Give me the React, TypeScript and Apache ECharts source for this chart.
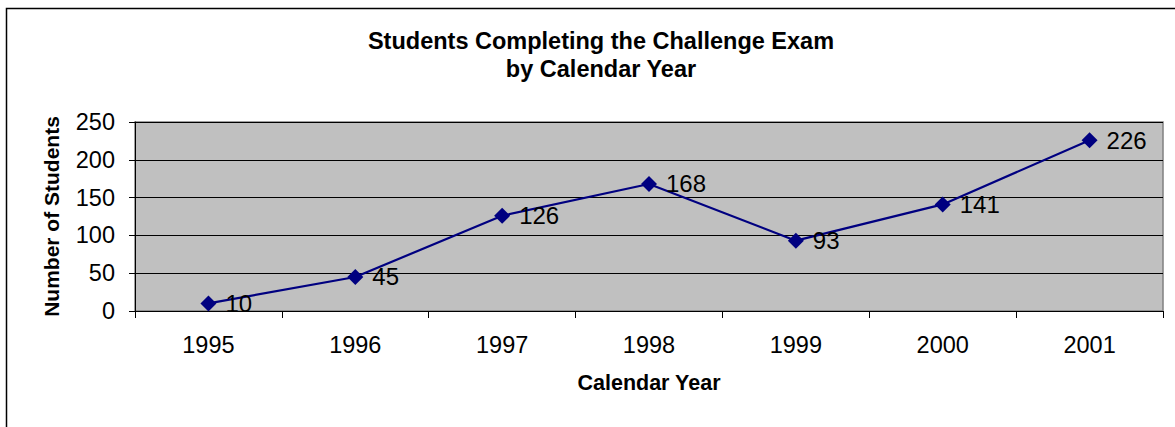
import React, { useEffect, useRef } from "react";
import * as echarts from "echarts";

const years = ["1995", "1996", "1997", "1998", "1999", "2000", "2001"];
const students = [10, 45, 126, 168, 93, 141, 226];
const titleLines = ["Students Completing the Challenge Exam", "by Calendar Year"];
const xName = "Calendar Year";
const yName = "Number of Students";

const FONT = "'Liberation Sans', Arial, sans-serif";

export default function App() {
  const ref = useRef<HTMLDivElement>(null);
  useEffect(() => {
    if (!ref.current) return;
    const chart = echarts.init(ref.current, null, { renderer: "svg" });
    chart.setOption({
      animation: false,
      backgroundColor: "#ffffff",
      textStyle: { fontFamily: FONT },
      title: {
        text: titleLines.join("\n"),
        left: 596,
        textAlign: "center",
        top: 22,
        textStyle: {
          fontFamily: FONT,
          fontSize: 23.5,
          fontWeight: "bold",
          color: "#000",
          lineHeight: 28,
        },
      },
      graphic: [
        {
          type: "rect",
          shape: { x: 6.5, y: 8.5, width: 1300, height: 600 },
          style: { fill: "none", stroke: "#000", lineWidth: 1.5 },
          silent: true,
        },
      ],
      grid: {
        left: 135,
        right: 12,
        top: 122,
        bottom: 116,
        show: true,
        backgroundColor: "#C0C0C0",
        borderColor: "#808080",
        borderWidth: 1.5,
      },
      xAxis: {
        type: "category",
        data: years,
        boundaryGap: true,
        name: xName,
        nameLocation: "middle",
        nameGap: 61,
        nameTextStyle: { fontFamily: FONT, fontSize: 21.5, fontWeight: "bold", color: "#000" },
        axisLine: { show: true, lineStyle: { color: "#000", width: 1 } },
        axisTick: { show: true, length: 7, alignWithLabel: false, lineStyle: { color: "#000" } },
        axisLabel: { fontFamily: FONT, fontSize: 23.5, color: "#000", margin: 22, interval: 0 },
        splitLine: { show: false },
      },
      yAxis: {
        type: "value",
        min: 0,
        max: 250,
        interval: 50,
        name: yName,
        nameLocation: "middle",
        nameGap: 73,
        nameRotate: 90,
        nameTextStyle: { fontFamily: FONT, fontSize: 21, fontWeight: "bold", color: "#000" },
        axisLine: { show: true, lineStyle: { color: "#000", width: 1 } },
        axisTick: { show: true, length: 6, lineStyle: { color: "#000" } },
        axisLabel: { fontFamily: FONT, fontSize: 23.5, color: "#000", margin: 20 },
        splitLine: { show: true, lineStyle: { color: "#000", width: 1 } },
      },
      series: [
        {
          type: "line",
          data: students,
          symbol: "diamond",
          symbolSize: 16,
          lineStyle: { color: "#000080", width: 2.2 },
          itemStyle: { color: "#000080" },
          label: {
            show: true,
            position: "right",
            distance: 9,
            fontFamily: FONT,
            fontSize: 24,
            color: "#000",
          },
        },
      ],
    });
    return () => chart.dispose();
  }, []);
  return (
    <div
      ref={ref}
      style={{ position: "absolute", left: 0, top: 0, width: 1175, height: 427 }}
    />
  );
}
